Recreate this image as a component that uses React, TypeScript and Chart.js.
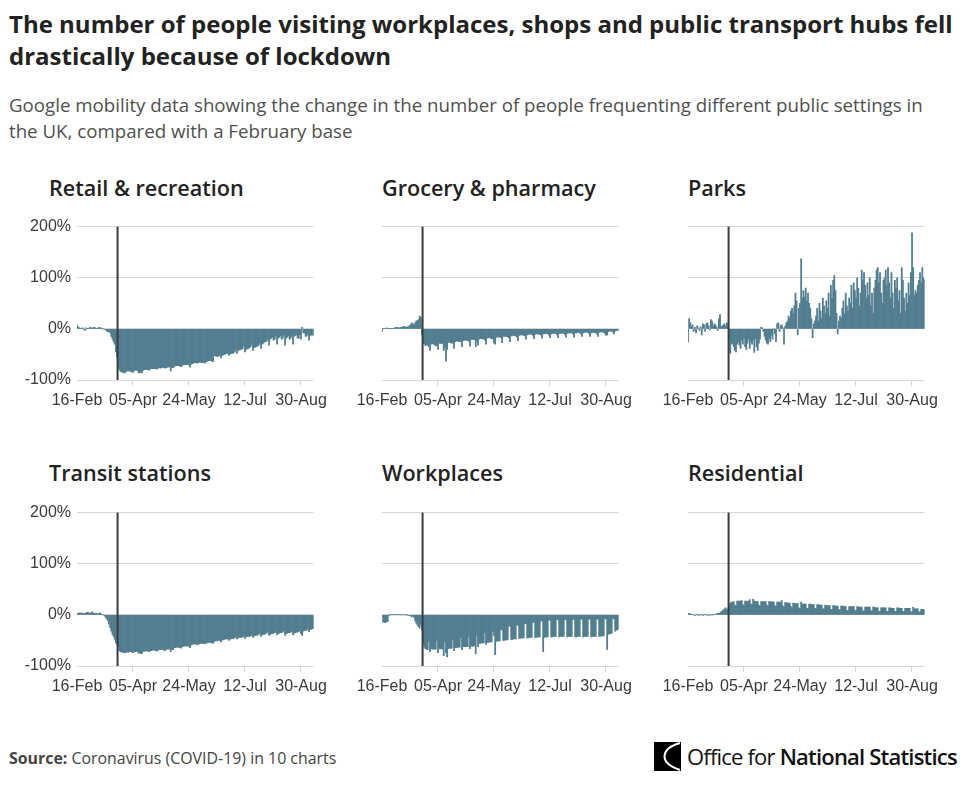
import React, { useEffect, useRef } from "react";
import { Chart, registerables } from "chart.js";

Chart.register(...registerables);

// ---------- categories & tick labels ----------
const MONTHS = ["Jan", "Feb", "Mar", "Apr", "May", "Jun", "Jul", "Aug", "Sep", "Oct", "Nov", "Dec"];
const START_UTC = Date.UTC(2020, 1, 16);
const DAY_COUNT = 208;
const categories: string[] = Array.from({ length: DAY_COUNT }, (_, i) => {
  const d = new Date(START_UTC + i * 86400000);
  return `${String(d.getUTCDate()).padStart(2, "0")}-${MONTHS[d.getUTCMonth()]}`;
});
const tickLabels = ["16-Feb", "05-Apr", "24-May", "12-Jul", "30-Aug"];
const lockdownDate = "23-Mar";

// ---------- series (weekly rows, Sun..Sat, from 16-Feb-2020) ----------
const retail = [
  8, 4, 2, 1, 1, 2, -1,
  -3, 2, 1, 1, 2, 3, 1,
  2, 3, 2, 1, 1, 3, 2,
  2, 1, 0, -1, -2, -4, -6,
  -5, -8, -15, -20, -25, -30, -45,
  -55, -75, -80, -83, -84, -85, -85,
  -86, -83, -82, -82, -82, -83, -84,
  -85, -82, -81, -81, -82, -86, -85,
  -86, -85, -81, -80, -80, -80, -80,
  -81, -79, -78, -78, -78, -78, -78,
  -79, -77, -76, -77, -76, -75, -76,
  -77, -76, -75, -75, -74, -82, -76,
  -76, -74, -72, -72, -72, -72, -73,
  -74, -72, -70, -70, -70, -70, -70,
  -71, -75, -69, -68, -67, -66, -66,
  -67, -66, -65, -65, -66, -66, -65,
  -67, -64, -63, -62, -62, -62, -63,
  -64, -52, -53, -54, -54, -53, -52,
  -57, -52, -51, -50, -49, -48, -48,
  -52, -49, -48, -48, -47, -45, -40,
  -48, -42, -41, -40, -40, -38, -33,
  -45, -40, -39, -38, -37, -35, -30,
  -42, -37, -36, -35, -34, -32, -28,
  -38, -30, -28, -26, -25, -24, -20,
  -32, -20, -18, -16, -22, -20, -14,
  -30, -18, -16, -14, -20, -18, -12,
  -32, -18, -16, -14, -20, -18, -14,
  -30, -15, -13, -12, -18, -18, -12,
  -20, 3, -8, -8, -15, -14, -10,
  -22, -14, -12, -12, -14,
];

const grocery = [
  -5, 1, 1, 1, 2, 1, 1,
  0, 1, 1, 1, 2, 3, 3,
  2, 2, 3, 3, 4, 5, 4,
  3, 4, 4, 6, 8, 12, 10,
  8, 12, 15, 16, 18, 25, 22,
  -12, -28, -30, -33, -32, -32, -35,
  -42, -30, -29, -30, -31, -33, -34,
  -40, -28, -28, -29, -28, -42, -36,
  -63, -40, -26, -27, -27, -28, -28,
  -38, -25, -24, -24, -24, -25, -25,
  -35, -23, -22, -22, -22, -23, -24,
  -34, -21, -20, -21, -21, -35, -24,
  -32, -20, -19, -19, -19, -20, -22,
  -30, -18, -17, -17, -18, -19, -20,
  -28, -30, -16, -16, -15, -16, -17,
  -27, -15, -15, -15, -15, -16, -17,
  -25, -14, -13, -13, -13, -14, -16,
  -23, -13, -12, -12, -12, -13, -14,
  -20, -12, -11, -11, -10, -11, -13,
  -19, -11, -10, -10, -10, -11, -12,
  -18, -10, -10, -9, -9, -10, -12,
  -17, -10, -9, -9, -9, -9, -11,
  -17, -9, -9, -9, -8, -9, -11,
  -16, -9, -8, -8, -8, -8, -10,
  -16, -8, -8, -7, -7, -8, -10,
  -15, -8, -7, -7, -6, -7, -9,
  -15, -8, -7, -7, -7, -8, -10,
  -15, -7, -6, -6, -6, -7, -9,
  -13, -12, -5, -5, -4, -5, -6,
  -10, -4, -3, -3, -3,
];

const parks = [
  -26, 20, 12, 5, 8, -5, 3,
  -8, 6, 2, -3, 4, -12, 10,
  8, -5, 10, 12, 6, -2, 18,
  15, 5, 10, 8, 4, -3, 20,
  28, 4, 6, 8, 10, 5, 12,
  5, -20, -48, -30, -28, -35, -42,
  -45, -30, -25, -32, -38, -22, -30,
  -18, -35, -40, -28, -20, -38, -25,
  -30, -22, -46, -18, -35, -42, -28,
  -20, 3, 2, -5, -15, -22, -28,
  -30, -18, -25, -12, -20, 0, -10,
  -25, 10, 12, -5, 6, 8, 2,
  -30, 5, 12, 15, 25, 20, 35,
  40, 30, 45, 70, 55, -12, 40,
  50, 137, 60, 75, 62, 80, 55,
  70, 50, 40, 20, -17, 10, 15,
  25, 40, 15, 50, 35, 20, 60,
  45, 30, 55, 40, 70, 25, 85,
  60, 95, 104, 75, 30, -10, 15,
  25, 20, 40, 55, 30, 70, 45,
  35, 60, 50, 85, 40, 90, 75,
  60, 100, 80, 45, 70, 115, 95,
  110, 85, 60, 90, 65, 100, 45,
  70, 30, 80, 95, 115, 120, 90,
  110, 70, 50, 95, 100, 115, 85,
  120, 90, 60, 110, 70, 40, 95,
  80, 100, 55, 75, 30, 120, 95,
  60, 35, 70, 50, 90, 65, 110,
  188, 120, 65, 75, 70, 85, 95,
  110, 90, 120, 100, 95,
];

const transit = [
  2, 3, 4, 3, 4, 3, 2,
  3, 4, 5, 4, 4, 3, 6,
  4, 3, 3, 3, 2, 2, 4,
  2, 1, 0, -2, -5, -8, -12,
  -18, -25, -32, -38, -42, -48, -55,
  -58, -62, -70, -72, -73, -73, -74,
  -74, -73, -73, -73, -72, -72, -73,
  -74, -72, -72, -71, -72, -75, -74,
  -76, -75, -71, -71, -71, -70, -71,
  -72, -70, -70, -69, -69, -69, -70,
  -71, -69, -68, -68, -68, -67, -69,
  -70, -67, -67, -67, -66, -72, -68,
  -68, -64, -64, -63, -63, -63, -64,
  -65, -62, -61, -61, -60, -61, -60,
  -62, -64, -59, -58, -57, -57, -57,
  -59, -57, -57, -56, -56, -56, -56,
  -57, -55, -55, -54, -54, -54, -55,
  -56, -52, -51, -51, -50, -50, -50,
  -53, -49, -49, -48, -47, -47, -47,
  -50, -47, -47, -46, -46, -45, -43,
  -47, -45, -44, -44, -44, -43, -41,
  -46, -43, -42, -42, -42, -41, -39,
  -44, -41, -40, -40, -39, -38, -36,
  -42, -39, -38, -38, -37, -36, -33,
  -40, -38, -37, -37, -36, -35, -32,
  -39, -37, -36, -35, -35, -34, -31,
  -40, -37, -36, -35, -35, -34, -32,
  -39, -36, -35, -34, -34, -33, -31,
  -37, -40, -32, -31, -30, -30, -27,
  -33, -29, -28, -27, -27,
];

const workplaces = [
  -3, -14, -15, -15, -14, -13, -2,
  1, 0, 0, 1, 0, 0, 1,
  0, 1, 0, 0, 1, 0, 0,
  0, 0, -1, -1, -2, -4, -2,
  -5, -12, -16, -20, -23, -26, -18,
  -30, -55, -63, -66, -67, -68, -52,
  -72, -66, -67, -67, -67, -67, -50,
  -74, -66, -66, -66, -67, -80, -52,
  -75, -82, -66, -65, -65, -65, -48,
  -70, -64, -64, -63, -63, -63, -45,
  -68, -62, -62, -62, -62, -62, -42,
  -66, -61, -61, -61, -60, -76, -40,
  -62, -56, -56, -55, -55, -55, -35,
  -58, -54, -54, -53, -53, -53, -32,
  -40, -78, -52, -51, -51, -51, -28,
  -30, -50, -50, -49, -49, -49, -22,
  -22, -48, -48, -47, -47, -47, -20,
  -20, -46, -46, -45, -45, -45, -17,
  -17, -45, -45, -44, -44, -44, -15,
  -15, -44, -44, -43, -43, -43, -12,
  -12, -72, -44, -43, -43, -43, -10,
  -11, -43, -43, -42, -42, -42, -9,
  -10, -43, -42, -42, -42, -42, -9,
  -10, -43, -42, -42, -42, -42, -9,
  -9, -43, -43, -42, -42, -42, -8,
  -9, -43, -42, -42, -42, -42, -8,
  -9, -43, -42, -42, -42, -42, -8,
  -9, -42, -42, -41, -41, -41, -7,
  -8, -68, -38, -37, -37, -36, -7,
  -8, -32, -30, -29, -28,
];

const residential = [
  2, 3, 2, 1, 1, 0, -1,
  0, 1, 0, -1, 0, 1, -1,
  0, 1, 0, 0, -1, 0, 0,
  0, 0, 1, 1, 2, 3, 3,
  4, 6, 8, 10, 12, 14, 10,
  12, 18, 23, 25, 25, 26, 19,
  17, 27, 27, 27, 27, 28, 20,
  18, 27, 27, 26, 27, 30, 21,
  20, 31, 27, 26, 26, 26, 19,
  17, 26, 26, 26, 26, 26, 19,
  17, 26, 26, 25, 26, 25, 18,
  16, 25, 25, 25, 24, 28, 17,
  15, 24, 24, 23, 23, 23, 16,
  14, 23, 22, 22, 22, 22, 14,
  13, 25, 21, 21, 21, 21, 13,
  13, 21, 21, 20, 20, 20, 13,
  12, 20, 20, 19, 19, 19, 12,
  12, 19, 18, 18, 18, 18, 11,
  11, 18, 18, 17, 17, 17, 10,
  10, 17, 17, 17, 16, 16, 9,
  9, 16, 16, 16, 16, 16, 9,
  9, 16, 15, 15, 15, 15, 8,
  8, 15, 15, 15, 15, 15, 8,
  8, 15, 15, 14, 14, 14, 7,
  7, 14, 14, 14, 14, 14, 7,
  7, 14, 14, 13, 13, 13, 7,
  7, 14, 14, 13, 13, 13, 7,
  7, 13, 13, 13, 13, 13, 6,
  6, 15, 12, 12, 12, 12, 6,
  6, 11, 11, 11, 10,
];

const panelTitles = ["Retail & recreation", "Grocery & pharmacy", "Parks", "Transit stations", "Workplaces", "Residential"];
const panelSeries = [retail, grocery, parks, transit, workplaces, residential];

// ---------- styles ----------
const BAR = "#527e90";
const GRID = "#d6d6d6";
const TICK = "#3a3a3a";
const TICK_FONT = { family: "'Liberation Sans', Arial, sans-serif", size: 16 };
const Y_AXIS_W = 60;
const X_AXIS_H = 34;
const PAD_TOP = 12;
const PLOT_W = 236.6;
const PLOT_H = 157;
const CANVAS_W = 322;
const CANVAS_H = PAD_TOP + PLOT_H + X_AXIS_H;
const COL_PLOT_LEFT = [76.7, 382.3, 688.3];
const ROW_PLOT_TOP = [223, 508.5];
const ROW_TITLE_Y = [188, 473];
const COL_TITLE_X = [49, 382, 688];

type PanelProps = { title: string; values: number[]; col: number; row: number };

function Panel({ values, col, row }: PanelProps) {
  const ref = useRef<HTMLCanvasElement>(null);
  useEffect(() => {
    if (!ref.current) return;
    const showY = col === 0;
    const lockdownPlugin = {
      id: "lockdown",
      afterDatasetsDraw(chart: any) {
        const xs = chart.scales.x;
        const idx = categories.indexOf(lockdownDate);
        const step = xs.getPixelForValue(1) - xs.getPixelForValue(0);
        const px = xs.getPixelForValue(idx) - step / 2;
        const { top, bottom } = chart.chartArea;
        const ctx = chart.ctx;
        ctx.save();
        ctx.strokeStyle = "#3b3b3b";
        ctx.lineWidth = 2;
        ctx.beginPath();
        ctx.moveTo(px, top);
        ctx.lineTo(px, bottom);
        ctx.stroke();
        ctx.restore();
      },
    };
    const chart = new Chart(ref.current, {
      type: "bar",
      data: {
        labels: categories,
        datasets: [
          {
            data: values,
            backgroundColor: BAR,
            borderWidth: 0,
            barPercentage: 1,
            categoryPercentage: 1,
          },
        ],
      },
      options: {
        animation: false,
        responsive: false,
        maintainAspectRatio: false,
        layout: { padding: { top: PAD_TOP, right: CANVAS_W - Y_AXIS_W - PLOT_W, left: 0, bottom: 0 } },
        plugins: { legend: { display: false }, tooltip: { enabled: false } },
        scales: {
          x: {
            type: "category",
            offset: false,
            border: { display: false },
            grid: {
              drawOnChartArea: false,
              drawTicks: true,
              tickLength: 6,
              color: (ctx: any) => (tickLabels.includes(categories[ctx.index]) ? GRID : "rgba(0,0,0,0)"),
            },
            ticks: {
              autoSkip: false,
              maxRotation: 0,
              minRotation: 0,
              padding: 5,
              color: TICK,
              font: TICK_FONT,
              callback: (_v: any, i: number) => (tickLabels.includes(categories[i]) ? categories[i] : ""),
            },
            afterFit: (s: any) => {
              s.height = X_AXIS_H;
            },
          },
          y: {
            min: -100,
            max: 200,
            border: { display: false },
            grid: { color: GRID, drawTicks: false },
            ticks: {
              stepSize: 100,
              padding: 6,
              color: TICK,
              font: TICK_FONT,
              callback: (v: any) => (showY ? `${v}%` : ""),
            },
            afterFit: (s: any) => {
              s.width = Y_AXIS_W;
            },
          },
        },
      },
      plugins: [lockdownPlugin],
    } as any);
    return () => chart.destroy();
  }, [values, col, row]);
  return (
    <canvas
      ref={ref}
      width={CANVAS_W}
      height={CANVAS_H}
      style={{
        position: "absolute",
        left: COL_PLOT_LEFT[col] - Y_AXIS_W,
        top: ROW_PLOT_TOP[row] - PAD_TOP,
        width: CANVAS_W,
        height: CANVAS_H,
      }}
    />
  );
}

export default function App() {
  const font = "'Open Sans', 'Noto Sans', sans-serif";
  return (
    <div
      style={{
        position: "absolute",
        left: 0,
        top: 0,
        width: 967,
        height: 801,
        background: "#fff",
        fontFamily: font,
        overflow: "hidden",
      }}
    >
      <div
        style={{
          position: "absolute",
          left: 9,
          top: 8,
          fontSize: 24,
          fontWeight: 700,
          lineHeight: "32px",
          color: "#222",
          whiteSpace: "nowrap",
        }}
      >
        The number of people visiting workplaces, shops and public transport hubs fell
        <br />
        drastically because of lockdown
      </div>
      <div
        style={{
          position: "absolute",
          left: 9,
          top: 92,
          fontSize: 18.7,
          lineHeight: "26px",
          color: "#505050",
          whiteSpace: "nowrap",
        }}
      >
        Google mobility data showing the change in the number of people frequenting different public settings in
        <br />
        the UK, compared with a February base
      </div>

      {panelTitles.map((t, i) => {
        const col = i % 3;
        const row = Math.floor(i / 3);
        return (
          <div
            key={t}
            style={{
              position: "absolute",
              left: COL_TITLE_X[col],
              top: ROW_TITLE_Y[row] - 15,
              fontSize: 21.6,
              fontWeight: 600,
              lineHeight: "30px",
              color: "#222",
              whiteSpace: "nowrap",
            }}
          >
            {t}
          </div>
        );
      })}

      {panelSeries.map((s, i) => (
        <Panel key={panelTitles[i]} title={panelTitles[i]} values={s} col={i % 3} row={Math.floor(i / 3)} />
      ))}

      <div
        style={{
          position: "absolute",
          left: 9,
          top: 747,
          fontSize: 15.9,
          lineHeight: "22px",
          color: "#444",
          whiteSpace: "nowrap",
        }}
      >
        <span style={{ fontWeight: 700 }}>Source:</span> Coronavirus (COVID-19) in 10 charts
      </div>

      <div style={{ position: "absolute", left: 654, top: 742, display: "flex", alignItems: "center" }}>
        <svg width={27} height={29} viewBox="0 0 27 29">
          <rect x={0} y={0} width={27} height={29} fill="#000" />
          <path d="M26 1 C8 6 3 20 26 28" stroke="#fff" strokeWidth={2} fill="none" />
        </svg>
        <span
          style={{
            marginLeft: 6,
            fontSize: 22,
            lineHeight: "29px",
            color: "#111",
            whiteSpace: "nowrap",
            letterSpacing: -0.8,
          }}
        >
          <span style={{ fontWeight: 400 }}>Office for </span>
          <span style={{ fontWeight: 600 }}>National Statistics</span>
        </span>
      </div>
    </div>
  );
}
